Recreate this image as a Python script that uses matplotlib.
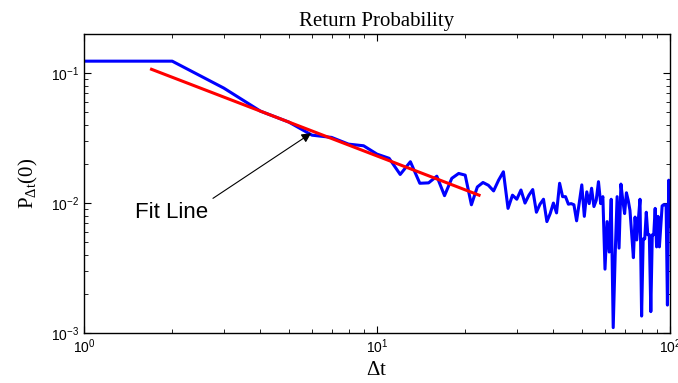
import numpy as np
import matplotlib
matplotlib.use('Agg')
import matplotlib.pyplot as plt
from matplotlib.ticker import LogLocator, NullFormatter

# Datos
dt = list(range(1, 101))
prob = [0.1236, 0.1236, 0.0767, 0.0510, 0.0420, 0.0333, 0.0320, 0.0284, 0.0276, 0.0238,
        0.0221, 0.0166, 0.0208, 0.0142, 0.0143, 0.0161, 0.0114, 0.0155, 0.0169, 0.0164,
        0.0097, 0.0133, 0.0144, 0.0137, 0.0124, 0.0150, 0.0174, 0.0091, 0.0115, 0.0107,
        0.0126, 0.0100, 0.0115, 0.0127, 0.0085, 0.0098, 0.0107, 0.0072, 0.0083, 0.0100,
        0.0084, 0.0142, 0.0112, 0.0112, 0.0098, 0.0099, 0.0097, 0.0073, 0.0100, 0.0138,
        0.0079, 0.0122, 0.0099, 0.0130, 0.0094, 0.0105, 0.0146, 0.0099, 0.0112, 0.0031,
        0.0072, 0.0042, 0.0107, 0.0011, 0.0040, 0.0112, 0.0045, 0.0140, 0.0105, 0.0083,
        0.0120, 0.0105, 0.0088, 0.0058, 0.0038, 0.0078, 0.0052, 0.0075, 0.0107, 0.00135,
        0.0053, 0.0053, 0.0085, 0.0057, 0.0057, 0.00146, 0.0057, 0.0057, 0.0091, 0.0046,
        0.0079, 0.0046, 0.0066, 0.0095, 0.0097, 0.0097, 0.0097, 0.00164, 0.0150, 0.0066]

# Recta de ajuste (extremos)
fit_x = [1.7, 22.3]
fit_y = [0.107, 0.0115]

# Punto de la flecha y posicion del texto
arrow_xy = (5.96, 0.0345)
label_xy = (1.49, 0.0085)

plt.rcParams['mathtext.default'] = 'regular'
plt.rcParams['font.family'] = 'Liberation Sans'

fig = plt.figure(figsize=(6.78, 3.83), dpi=100)
ax = fig.add_axes([84 / 678, 50 / 383, 586 / 678, 299 / 383])

ax.plot(dt, prob, color='#0000ff', lw=2.2)
ax.plot(fit_x, fit_y, color='#ff0000', lw=2.2)

ax.set_xscale('log')
ax.set_yscale('log')
ax.set_xlim(1, 100)
ax.set_ylim(1e-3, 0.2)

ax.annotate('Fit Line', xy=arrow_xy, xytext=label_xy, fontsize=16,
            ha='left', va='center',
            arrowprops=dict(arrowstyle='-|>', color='black', lw=0.8,
                            mutation_scale=14, relpos=(1.0, 1.0),
                            shrinkA=2, shrinkB=0))

ax.set_title('Return Probability', family='Liberation Serif', fontsize=15, pad=6)
ax.set_xlabel(r'$\Delta$t', family='Liberation Serif', fontsize=15, labelpad=3)
ax.set_ylabel(r'P$_{\Delta t}$(0)', family='Liberation Serif', fontsize=15, labelpad=8)

ax.yaxis.set_minor_locator(LogLocator(base=10, subs=np.arange(2, 10)))
ax.yaxis.set_minor_formatter(NullFormatter())
ax.xaxis.set_minor_formatter(NullFormatter())
ax.tick_params(which='both', direction='in', top=True, right=True, labelsize=10)
ax.tick_params(which='major', length=5, width=0.8)
ax.tick_params(which='minor', length=3, width=0.6)
for s in ax.spines.values():
    s.set_linewidth(1.0)

fig.savefig('out.png', dpi=100)
